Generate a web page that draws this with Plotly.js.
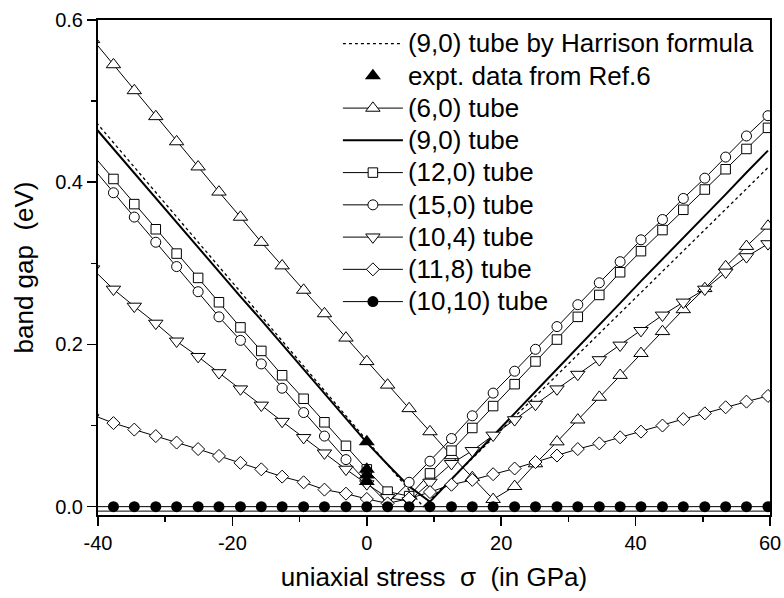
<!DOCTYPE html>
<html>
<head>
<meta charset="utf-8">
<script src="https://cdn.plot.ly/plotly-3.0.1.min.js"></script>
<style>html,body{margin:0;padding:0;background:#fff;}#chart{width:784px;height:598px;}</style>
</head>
<body>
<div id="chart"></div>
<script>
// uniaxial stress values (GPa) at which the tube gaps were computed
const stressGPa = [-40.8, -37.7, -34.6, -31.4, -28.3, -25.1, -22.0, -18.8, -15.7, -12.6, -9.4, -6.3, -3.1, 0, 3.1, 6.3, 9.4, 12.6, 15.7, 18.8, 22.0, 25.1, 28.3, 31.4, 34.6, 37.7, 40.8, 44.0, 47.1, 50.3, 53.4, 56.5, 59.7];

// band gaps (eV)
const gap6_0 = [0.576, 0.545, 0.513, 0.481, 0.450, 0.419, 0.388, 0.357, 0.326, 0.297, 0.267, 0.238, 0.208, 0.179, 0.150, 0.121, 0.0925, 0.063, 0.036, 0.009, 0.025, 0.053, 0.080, 0.107, 0.135, 0.162, 0.189, 0.216, 0.243, 0.269, 0.296, 0.321, 0.346];
const gap9_0 = [0.471, 0.441, 0.411, 0.381, 0.351, 0.320, 0.290, 0.259, 0.230, 0.200, 0.169, 0.139, 0.108, 0.079, 0.052, 0.025, 0.006, 0.034, 0.061, 0.088, 0.115, 0.142, 0.170, 0.197, 0.224, 0.251, 0.278, 0.305, 0.332, 0.358, 0.385, 0.412, 0.439];
const gap12_0 = [0.434, 0.404, 0.373, 0.342, 0.312, 0.282, 0.252, 0.221, 0.192, 0.162, 0.133, 0.104, 0.075, 0.046, 0.0185, 0.013, 0.041, 0.069, 0.097, 0.124, 0.151, 0.179, 0.206, 0.234, 0.261, 0.289, 0.315, 0.341, 0.366, 0.391, 0.416, 0.441, 0.467];
const gap15_0 = [0.418, 0.387, 0.357, 0.326, 0.296, 0.265, 0.234, 0.205, 0.176, 0.146, 0.116, 0.087, 0.058, 0.030, 0.004, 0.030, 0.056, 0.084, 0.112, 0.140, 0.167, 0.194, 0.222, 0.249, 0.276, 0.302, 0.329, 0.354, 0.380, 0.405, 0.431, 0.457, 0.482];
const gap10_4 = [0.293, 0.268, 0.247, 0.226, 0.204, 0.185, 0.165, 0.145, 0.125, 0.105, 0.085, 0.066, 0.046, 0.028, 0.011, 0.007, 0.030, 0.053, 0.069, 0.088, 0.107, 0.126, 0.145, 0.163, 0.181, 0.199, 0.217, 0.236, 0.252, 0.268, 0.289, 0.308, 0.324];
const gap11_8 = [0.113, 0.103, 0.095, 0.087, 0.079, 0.071, 0.0625, 0.054, 0.046, 0.037, 0.030, 0.021, 0.016, 0.0095, 0.004, 0.010, 0.018, 0.027, 0.033, 0.040, 0.047, 0.055, 0.063, 0.071, 0.078, 0.0855, 0.0925, 0.100, 0.108, 0.115, 0.1225, 0.1295, 0.1365];
const gap10_10 = [0, 0, 0, 0, 0, 0, 0, 0, 0, 0, 0, 0, 0, 0, 0, 0, 0, 0, 0, 0, 0, 0, 0, 0, 0, 0, 0, 0, 0, 0, 0, 0, 0];

// (9,0) tube by Harrison formula (linear V)
const harrisonStress = [-40.8, 8.4, 59.7];
const harrisonGap = [0.479, 0.0, 0.418];

// experimental data (Ref.6)
const exptStress = [0, 0, 0, 0];
const exptGap = [0.080, 0.046, 0.039, 0.031];

const seriesNames = ['(9,0) tube by Harrison formula', 'expt. data from Ref.6', '(6,0) tube', '(9,0) tube', '(12,0) tube', '(15,0) tube', '(10,4) tube', '(11,8) tube', '(10,10) tube'];

const xTickVals = [-40, -20, 0, 20, 40, 60];
const xTickText = ['-40', '-20', '0', '20', '40', '60'];
const yTickVals = [0.0, 0.2, 0.4, 0.6];
const yTickText = ['0.0', '0.2', '0.4', '0.6'];

const FONT = 'Liberation Sans, Arial, sans-serif';
const LEGFS = 26;
function lg(t) { return '<span style="font-size:' + LEGFS + 'px">' + t + '</span>'; }

function openTrace(name, y, symbol, size, rank) {
  return {
    x: stressGPa, y: y, name: lg(name), type: 'scatter', mode: 'lines+markers',
    line: {color: '#000', width: 1},
    marker: {symbol: symbol, size: size, color: '#fff', line: {color: '#000', width: 1}},
    legendrank: rank
  };
}

const data = [
  {x: harrisonStress, y: harrisonGap, name: lg(seriesNames[0]), type: 'scatter', mode: 'lines',
   line: {color: '#000', width: 1.3, dash: 'dot'}, legendrank: 1},
  openTrace(seriesNames[2], gap6_0, 'triangle-up', 12.5, 3),
  {x: stressGPa, y: gap9_0, name: lg(seriesNames[3]), type: 'scatter', mode: 'lines',
   line: {color: '#000', width: 2}, legendrank: 4},
  openTrace(seriesNames[4], gap12_0, 'square', 9.5, 5),
  openTrace(seriesNames[5], gap15_0, 'circle', 10, 6),
  openTrace(seriesNames[6], gap10_4, 'triangle-down', 12.5, 7),
  openTrace(seriesNames[7], gap11_8, 'diamond', 10, 8),
  {x: stressGPa, y: gap10_10, name: lg(seriesNames[8]), type: 'scatter', mode: 'lines+markers',
   line: {color: '#000', width: 1}, marker: {symbol: 'circle', size: 11, color: '#000'}, legendrank: 9},
  {x: exptStress, y: exptGap, name: lg(seriesNames[1]), type: 'scatter', mode: 'markers',
   marker: {symbol: 'triangle-up', size: 14, color: '#000'}, legendrank: 2}
];

const layout = {
  width: 784, height: 598,
  margin: {l: 98, r: 14, t: 20, b: 83},
  paper_bgcolor: '#fff', plot_bgcolor: '#fff',
  font: {family: FONT, color: '#000', size: 20},
  showlegend: true,
  legend: {x: 0.357, y: 0.995, xanchor: 'left', yanchor: 'top', bgcolor: 'rgba(0,0,0,0)',
           font: {family: FONT, size: 22.5, color: '#000'}, itemwidth: 60, tracegroupgap: 0},
  xaxis: {
    range: [-40, 60], tickmode: 'array', tickvals: xTickVals, ticktext: xTickText,
    ticks: 'outside', ticklen: 9, tickwidth: 1.5, tickcolor: '#000',
    minor: {dtick: 10, tick0: 0, ticks: 'outside', ticklen: 5, tickwidth: 1.5, tickcolor: '#000', showgrid: false},
    showline: true, linewidth: 2, linecolor: '#000', mirror: true,
    showgrid: false, zeroline: false,
    tickfont: {size: 20, family: FONT},
    title: {text: 'uniaxial stress\u00a0\u00a0σ\u00a0\u00a0(in GPa)', font: {size: 26, family: FONT}, standoff: 15}
  },
  yaxis: {
    range: [-0.0103, 0.6], tickmode: 'array', tickvals: yTickVals, ticktext: yTickText,
    ticks: 'outside', ticklen: 9, tickwidth: 1.5, tickcolor: '#000',
    minor: {dtick: 0.1, tick0: 0, ticks: 'outside', ticklen: 5, tickwidth: 1.5, tickcolor: '#000', showgrid: false},
    showline: true, linewidth: 2, linecolor: '#000', mirror: true,
    showgrid: false, zeroline: false,
    tickfont: {size: 20, family: FONT},
    title: {text: 'band gap\u00a0\u00a0(eV)', font: {size: 26, family: FONT}, standoff: 14}
  },
  xaxis2: {overlaying: 'x', anchor: 'y', side: 'top', range: [-40, 60], dtick: 10, tick0: 0,
           ticks: 'inside', ticklen: 4, tickwidth: 1.5, tickcolor: '#000', showticklabels: false,
           showline: false, showgrid: false, zeroline: false},
  yaxis2: {overlaying: 'y', anchor: 'x', side: 'right', range: [-0.0103, 0.6], dtick: 0.1, tick0: 0,
           ticks: 'inside', ticklen: 4, tickwidth: 1.5, tickcolor: '#000', showticklabels: false,
           showline: false, showgrid: false, zeroline: false},
  shapes: [{type: 'line', xref: 'paper', x0: 0, x1: 1, yref: 'y', y0: -0.0055, y1: -0.0055,
            line: {color: '#000', width: 1}}]
};

Plotly.newPlot('chart', data, layout, {staticPlot: true});
</script>
</body>
</html>
